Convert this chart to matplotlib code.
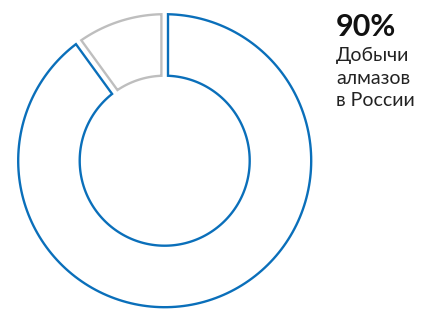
import numpy as np
import matplotlib
matplotlib.use("Agg")
import matplotlib.pyplot as plt
from matplotlib.patches import Polygon

# share of diamond mining, clockwise from 12 o'clock
labels = ["Россия", "Остальные"]
shares = [90, 10]
colors = ["#0A6FBA", "#BEBEBE"]

big_label = "90%"
caption_lines = ["Добычи", "алмазов", "в России"]


def ring_segment(cx, cy, r_out, r_in, a1, a2, half_gap, n=200):
    # ring segment from angle a1 to a2 (deg, a1 > a2, clockwise),
    # radial edges pulled in by half_gap so the gap has constant width
    do = np.degrees(np.arcsin(half_gap / r_out))
    di = np.degrees(np.arcsin(half_gap / r_in))
    outer = np.radians(np.linspace(a1 - do, a2 + do, n))
    inner = np.radians(np.linspace(a2 + di, a1 - di, n))
    xs = np.concatenate([cx + r_out * np.cos(outer), cx + r_in * np.cos(inner)])
    ys = np.concatenate([cy - r_out * np.sin(outer), cy - r_in * np.sin(inner)])
    return np.column_stack([xs, ys])


fig = plt.figure(figsize=(4.21, 3.09), dpi=100)
ax = fig.add_axes([0, 0, 1, 1])
ax.set_xlim(0, 421)
ax.set_ylim(309, 0)
ax.axis("off")

cx, cy = 164.7, 160.7
r_out, r_in = 146.5, 85.0

start = 90.0
total = sum(shares)
for val, col in zip(shares, colors):
    end = start - 360.0 * val / total
    pts = ring_segment(cx, cy, r_out, r_in, start, end, 3.3)
    ax.add_patch(Polygon(pts, closed=True, facecolor="white",
                         edgecolor=col, linewidth=1.7, joinstyle="miter"))
    start = end

ax.text(336, 36, big_label, fontsize=22, fontweight="bold",
        family="Lato", color="#111111", va="baseline")
for i, line in enumerate(caption_lines):
    ax.text(336, 61 + 22.5 * i, line, fontsize=14, family="Lato",
            color="#222222", va="baseline")

fig.savefig("out.png", dpi=100)
